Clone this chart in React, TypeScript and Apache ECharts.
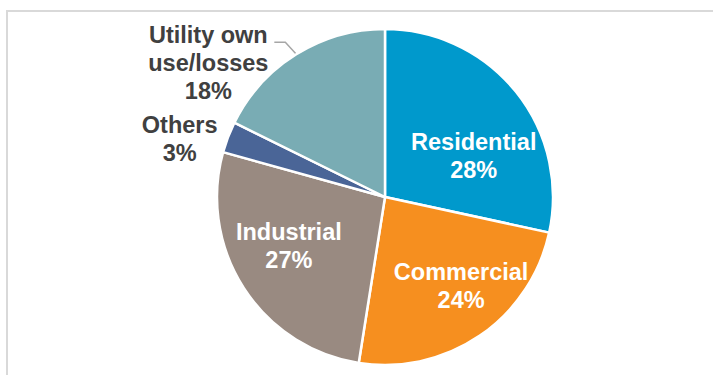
import React, { useEffect, useRef } from "react";
import * as echarts from "echarts";

const categories = ["Residential", "Commercial", "Industrial", "Others", "Utility own\nuse/losses"];
const shares = [28.4, 24.1, 26.8, 3.0, 17.7];
const colors = ["#0099CC", "#F68F1F", "#998A81", "#4A6597", "#79ACB4"];
const labelColors = ["#FFFFFF", "#FFFFFF", "#FFFFFF", "#404040", "#404040"];
// label offsets (px) relative to the library's default label anchor
const labelOffsets: [number, number][] = [[21, 14], [27, 17], [-23, 2], [-124, -27], [-88, 9]];

export default function App() {
  const ref = useRef<HTMLDivElement>(null);
  useEffect(() => {
    document.body.style.margin = "0";
    const chart = echarts.init(ref.current!, null, { renderer: "svg" });
    const font = "'Liberation Sans', Arial, sans-serif";
    chart.setOption({
      animation: false,
      backgroundColor: "#FFFFFF",
      graphic: [
        {
          type: "rect",
          shape: { x: 7, y: 11, width: 800, height: 500 },
          style: { fill: "none", stroke: "#D9D9D9", lineWidth: 2 },
          silent: true,
        },
      ],
      series: [
        {
          type: "pie",
          center: [385, 197],
          radius: 168,
          startAngle: 90,
          clockwise: true,
          avoidLabelOverlap: false,
          itemStyle: { borderColor: "#FFFFFF", borderWidth: 2.5 },
          label: {
            show: true,
            position: "inside",
            fontFamily: font,
            fontWeight: "bold",
            fontSize: 23.5,
            lineHeight: 28,
            align: "center",
            formatter: (p: any) => `${p.name}\n${Math.round(p.percent)}%`,
          },
          labelLine: { show: false },
          labelLayout: (params: any) => {
            const i = params.dataIndex;
            const off = labelOffsets[i];
            if (i === 4 && params.labelLinePoints && params.labelLinePoints.length) {
              const p0 = params.labelLinePoints[0];
              return {
                x: p0[0] + off[0],
                y: p0[1] + off[1],
                align: "center",
                verticalAlign: "middle",
                labelLinePoints: [
                  [p0[0], p0[1]],
                  [p0[0] - 11, p0[1] - 12],
                  [p0[0] - 22, p0[1] - 12],
                ],
              };
            }
            const r = params.labelRect;
            return {
              x: r.x + r.width / 2 + off[0],
              y: r.y + r.height / 2 + off[1],
              align: "center",
              verticalAlign: "middle",
            };
          },
          data: categories.map((name, i) => ({
            name,
            value: shares[i],
            itemStyle: { color: colors[i] },
            label: i === 4
              ? { position: "outside", color: labelColors[i] }
              : { color: labelColors[i] },
            labelLine: i === 4
              ? { show: true, length: 10, length2: 10, lineStyle: { color: "#A6A6A6", width: 1.5 } }
              : { show: false },
          })),
        },
      ],
    });
    return () => chart.dispose();
  }, []);
  return (
    <div
      ref={ref}
      style={{ position: "fixed", left: 0, top: 0, width: 713, height: 375 }}
    />
  );
}
